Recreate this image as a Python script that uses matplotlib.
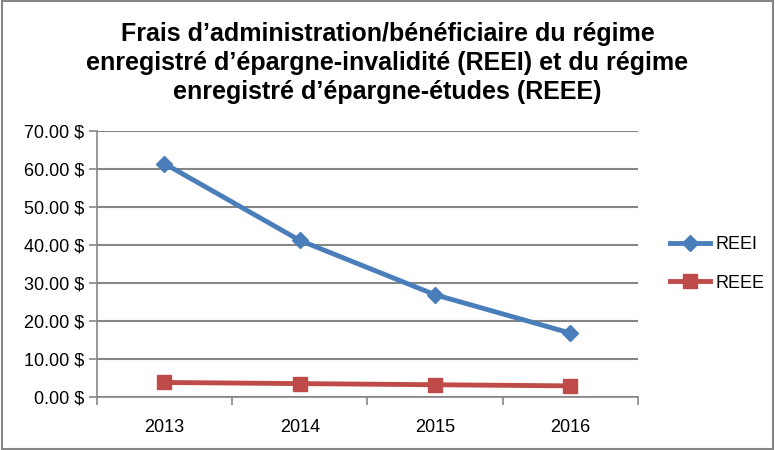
import matplotlib.pyplot as plt
from matplotlib.patches import Rectangle

years = ["2013", "2014", "2015", "2016"]
reei = [61.4, 41.2, 26.9, 16.8]
reee = [3.8, 3.5, 3.2, 2.9]
y_ticks = [0, 10, 20, 30, 40, 50, 60, 70]

title = ("Frais d\u2019administration/bénéficiaire du régime\n"
         "enregistré d\u2019épargne-invalidité (REEI) et du régime\n"
         "enregistré d\u2019épargne-études (REEE)")

plt.rcParams['font.family'] = ['Liberation Sans', 'DejaVu Sans']

fig = plt.figure(figsize=(7.75, 4.5), dpi=100)
fig.patches.append(Rectangle((0.002, 0.003), 0.996, 0.994, transform=fig.transFigure,
                             fill=False, edgecolor='#868686', linewidth=1.5))

ax = fig.add_axes([0.125, 0.118, 0.698, 0.591])
x = list(range(len(years)))
ax.plot(x, reei, color='#4A7EBB', linewidth=3.5, marker='D', markersize=8, label='REEI')
ax.plot(x, reee, color='#BE4B48', linewidth=3.5, marker='s', markersize=10, label='REEE')

ax.set_xlim(-0.5, len(years) - 0.5)
ax.set_ylim(0, 70)
ax.set_yticks(y_ticks)
ax.set_yticklabels([f"{v:.2f} $" for v in y_ticks], fontsize=13)
ax.set_xticks([i - 0.5 for i in range(len(years) + 1)])
ax.set_xticklabels([])
ax.set_xticks(x, minor=True)
ax.set_xticklabels(years, minor=True, fontsize=13)
ax.tick_params(axis='x', which='minor', length=0, pad=16)
ax.tick_params(axis='x', which='major', length=6, color='#868686', width=1.2)
ax.tick_params(axis='y', length=6, color='#868686', width=1.2, pad=3)

ax.yaxis.grid(True, color='#868686', linewidth=1.5)
ax.set_axisbelow(True)
for s in ['top', 'right']:
    ax.spines[s].set_visible(False)
ax.spines['left'].set_color('#868686')
ax.spines['bottom'].set_color('#868686')
ax.spines['left'].set_linewidth(1.2)
ax.spines['bottom'].set_linewidth(1.2)

ax.legend(loc='center left', bbox_to_anchor=(1.03, 0.5), frameon=False, fontsize=13,
          handlelength=2.2, labelspacing=1.2, handletextpad=0.3)

fig.text(0.5, 0.952, title, ha='center', va='top', fontsize=18, fontweight='bold',
         linespacing=1.28)

fig.savefig('out.png', dpi=100)
